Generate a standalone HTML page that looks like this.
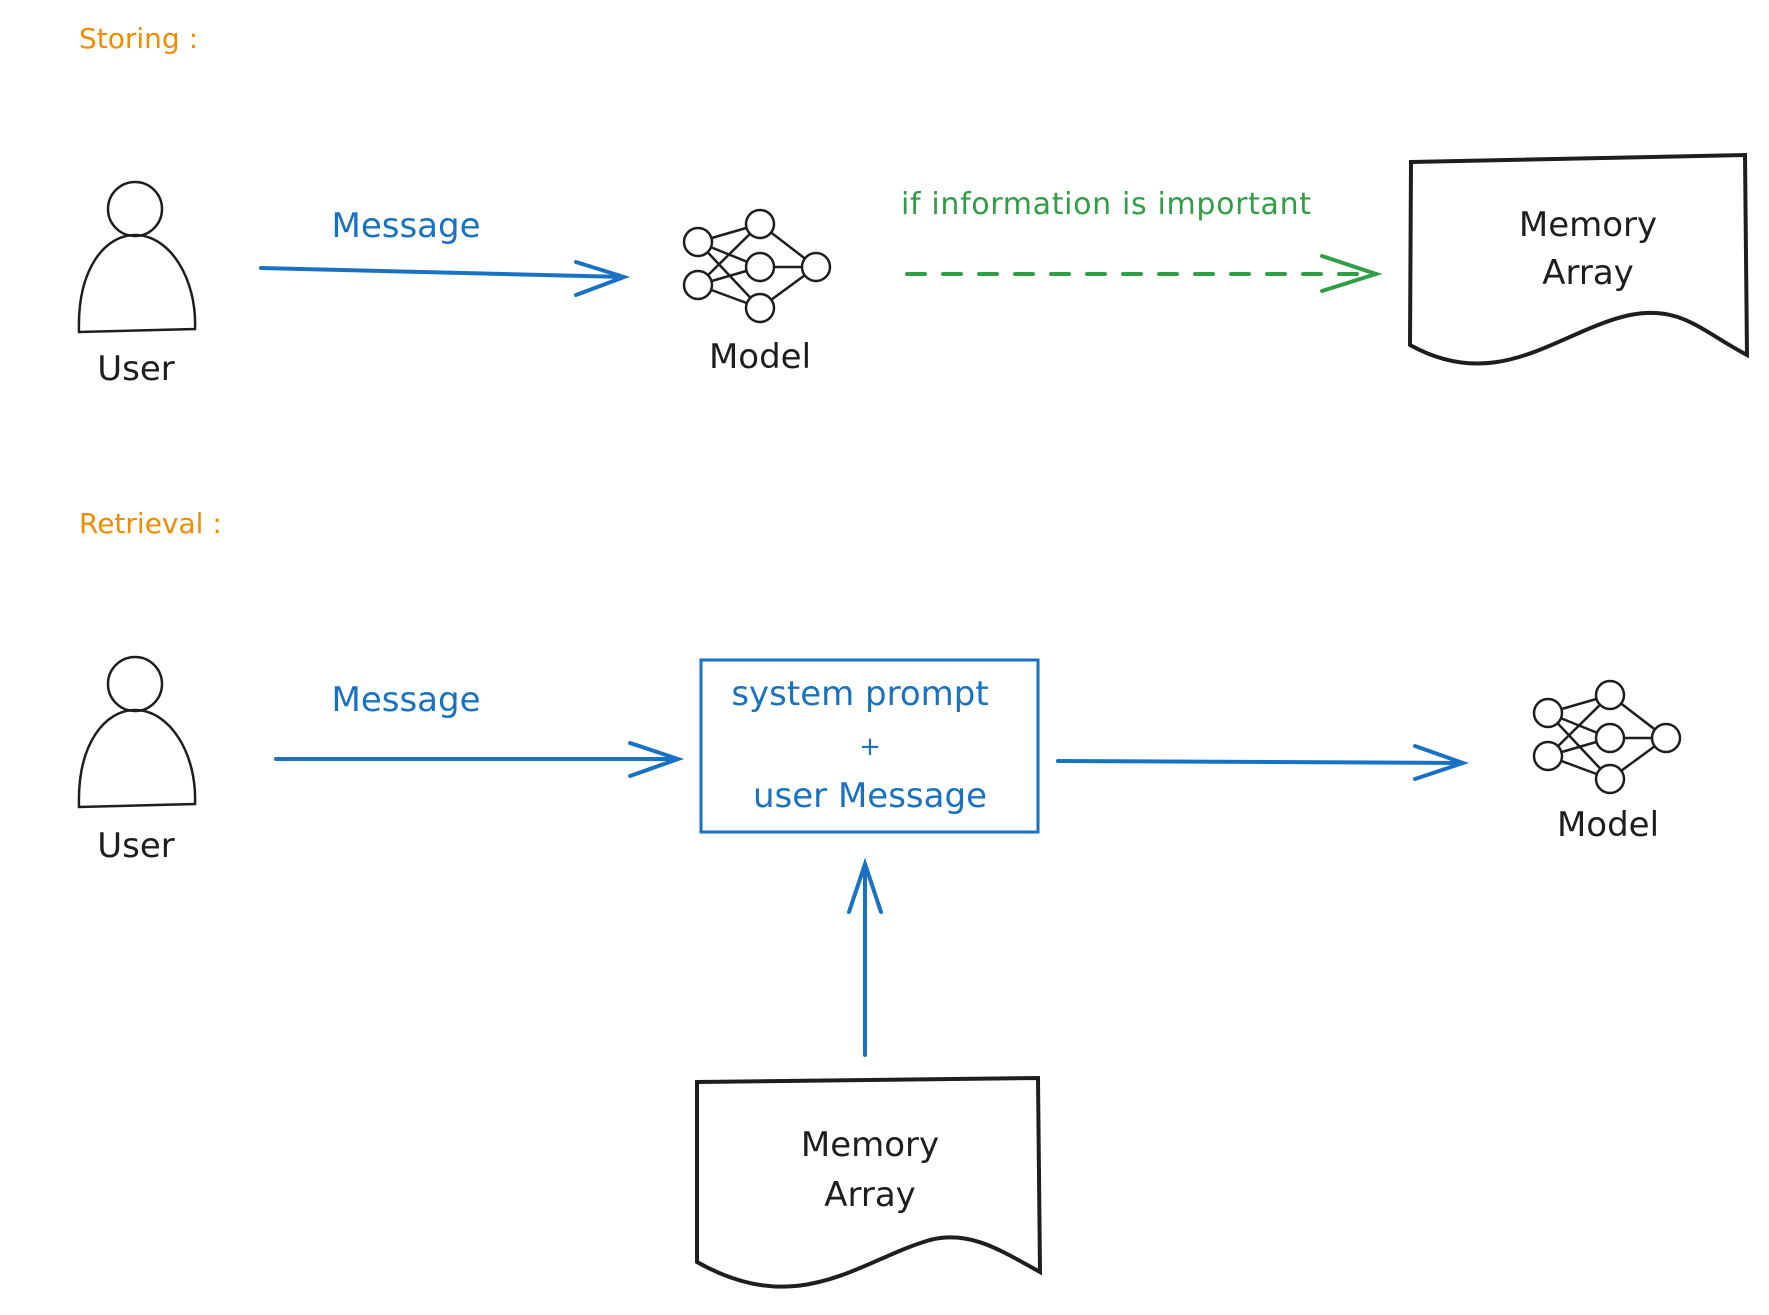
<!DOCTYPE html><html><head><style>body{margin:0;background:#fff}svg text{font-family:"DejaVu Sans","Liberation Sans",sans-serif}</style></head><body>
<svg width="1769" height="1310" viewBox="0 0 1769 1310" xmlns="http://www.w3.org/2000/svg">
<defs>
<g id="nn" fill="none" stroke="#1e1e1e" stroke-width="2.5">
<line x1="0" y1="0" x2="62" y2="-18"/><line x1="0" y1="0" x2="62" y2="25"/><line x1="0" y1="0" x2="62" y2="66"/>
<line x1="0" y1="43" x2="62" y2="-18"/><line x1="0" y1="43" x2="62" y2="25"/><line x1="0" y1="43" x2="62" y2="66"/>
<line x1="62" y1="-18" x2="118" y2="25"/><line x1="62" y1="25" x2="118" y2="25"/><line x1="62" y1="66" x2="118" y2="25"/>
<g fill="#fff"><circle cx="0" cy="0" r="14"/><circle cx="0" cy="43" r="14"/><circle cx="62" cy="-18" r="14"/><circle cx="62" cy="25" r="14"/><circle cx="62" cy="66" r="14"/><circle cx="118" cy="25" r="14"/></g>
</g>
<g id="user" fill="none" stroke="#1e1e1e" stroke-width="2.5">
<circle cx="0" cy="0" r="27"/>
<path d="M-56 123 C-58 60 -30 26 0 26 C35 26 62 70 60 120 Z"/>
</g>
</defs>
<g font-size="28" fill="#f08c00"><text x="79" y="48">Storing :</text><text x="79" y="533">Retrieval :</text></g>
<use href="#user" x="135" y="209"/>
<use href="#user" x="135" y="684"/>
<g font-size="34" fill="#1e1e1e" text-anchor="middle">
<text x="136" y="380">User</text><text x="136" y="857">User</text>
<text x="760" y="368">Model</text><text x="1608" y="836">Model</text>
</g>
<use href="#nn" x="698" y="242"/>
<use href="#nn" x="1548" y="713"/>
<g fill="#1971c2" font-size="34" text-anchor="middle">
<text x="406" y="237">Message</text><text x="406" y="711">Message</text>
<text x="860" y="705">system prompt</text><text x="870" y="755" font-size="26">+</text><text x="870" y="807">user Message</text>
</g>
<g stroke="#1971c2" stroke-width="4" fill="none" stroke-linecap="round">
<path d="M261 268 L624 277 M576 262 L624 277 L576 295"/>
<path d="M276 759 L678 759 M630 743 L678 759 L630 776"/>
<path d="M1058 761 L1463 763 M1415 746 L1463 763 L1415 779"/>
<path d="M865 1055 L865 864 M849 912 L865 864 L881 912"/>
<rect x="701" y="660" width="337" height="172" stroke-width="3"/>
</g>
<text x="1106" y="214" font-size="30" fill="#2f9e44" text-anchor="middle" textLength="410">if information is important</text>
<g stroke="#2f9e44" stroke-width="4" fill="none" stroke-linecap="round">
<path d="M907 274 L1376 274" stroke-dasharray="18 18"/>
<path d="M1322 256 L1376 274 L1322 291"/>
</g>
<g stroke="#1e1e1e" stroke-width="4" fill="#fff">
<path d="M1411 162 L1745 155 L1747 355 C1700 330 1680 305 1630 315 C1560 330 1500 395 1410 345 Z"/>
<path d="M697 1082 L1038 1078 L1040 1272 C1000 1250 970 1230 930 1240 C860 1260 800 1320 697 1262 Z"/>
</g>
<g font-size="34" fill="#1e1e1e" text-anchor="middle">
<text x="1588" y="236">Memory</text><text x="1588" y="284">Array</text>
<text x="870" y="1156">Memory</text><text x="870" y="1206">Array</text>
</g>
</svg></body></html>
